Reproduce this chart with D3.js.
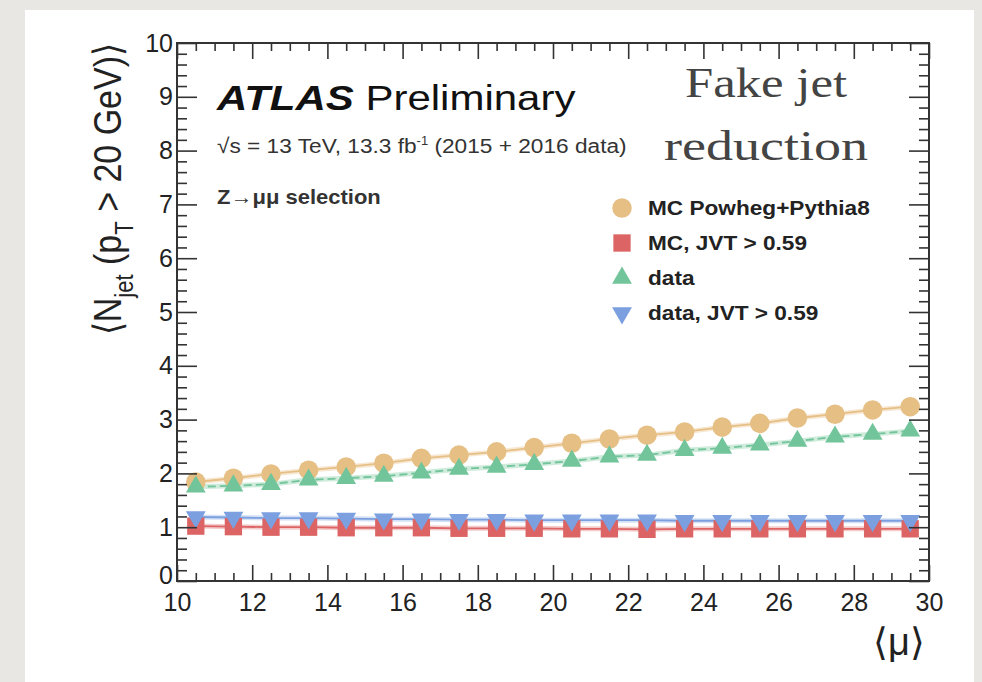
<!DOCTYPE html>
<html>
<head>
<meta charset="utf-8">
<script src="https://cdn.jsdelivr.net/npm/d3@7"></script>
<style>
  body { margin: 0; background: #e9e7e3; }
  svg { display: block; }
  .axis path { display: none; }
  .axis line { stroke: #333; stroke-width: 1.6; }
  .axis text { font-family: "Liberation Sans", Arial, sans-serif; fill: #222; }
</style>
</head>
<body>
<div id="chart"></div>
<script>
// <mu> bin centres
const mu = [10.5, 11.5, 12.5, 13.5, 14.5, 15.5, 16.5, 17.5, 18.5, 19.5,
            20.5, 21.5, 22.5, 23.5, 24.5, 25.5, 26.5, 27.5, 28.5, 29.5];

const mcPowheg = [1.84, 1.91, 1.99, 2.06, 2.12, 2.19, 2.28, 2.34, 2.40, 2.48,
                  2.56, 2.64, 2.71, 2.77, 2.86, 2.93, 3.03, 3.10, 3.18, 3.24];
const mcJvt    = [1.02, 1.01, 1.00, 1.00, 0.99, 0.99, 0.99, 0.98, 0.98, 0.98,
                  0.97, 0.97, 0.96, 0.97, 0.97, 0.97, 0.97, 0.97, 0.97, 0.97];
const data     = [1.75, 1.77, 1.80, 1.88, 1.91, 1.95, 2.01, 2.08, 2.12, 2.17,
                  2.23, 2.31, 2.34, 2.43, 2.47, 2.53, 2.60, 2.68, 2.73, 2.79];
const dataJvt  = [1.19, 1.18, 1.17, 1.17, 1.16, 1.15, 1.15, 1.14, 1.14, 1.13,
                  1.13, 1.13, 1.13, 1.12, 1.12, 1.12, 1.12, 1.12, 1.12, 1.12];

const series = [
  {name: "MC Powheg+Pythia8", values: mcPowheg, color: "#e6bf85", line: "#efd2a8", shape: "circle", dash: null},
  {name: "MC, JVT > 0.59",    values: mcJvt,    color: "#dc6464", line: "#e99a9a", shape: "square", dash: null},
  {name: "data",              values: data,     color: "#72c49a", line: "#9ed8b8", shape: "triangle", dash: "8,4"},
  {name: "data, JVT > 0.59",  values: dataJvt,  color: "#7b9fdf", line: "#a9c1ec", shape: "triangleDown", dash: null}
];

const W = 982, H = 682;
const svg = d3.select("#chart").append("svg").attr("width", W).attr("height", H);

// white page panel
svg.append("rect").attr("x", 25).attr("y", 10).attr("width", 949).attr("height", 672).attr("fill", "#fff");

const x = d3.scaleLinear().domain([10, 30]).range([177, 929]);
const y = d3.scaleLinear().domain([0, 10]).range([581, 43]);

const font = '"Liberation Sans", Arial, sans-serif';
const serif = '"Liberation Serif", "DejaVu Serif", serif';

// series lines
const lineGen = d3.line().x((d, i) => x(mu[i])).y(d => y(d));
series.forEach(s => {
  svg.append("path").datum(s.values)
    .attr("d", lineGen)
    .attr("fill", "none")
    .attr("stroke", s.line)
    .attr("stroke-width", 5)
    .attr("stroke-opacity", 0.5);
  svg.append("path").datum(s.values)
    .attr("d", lineGen)
    .attr("fill", "none")
    .attr("stroke", s.color)
    .attr("stroke-width", 1.8)
    .attr("stroke-dasharray", s.dash);
});

const symbols = {
  circle: d3.symbol().type(d3.symbolCircle).size(300),
  square: d3.symbol().type(d3.symbolSquare).size(300),
  triangle: d3.symbol().type(d3.symbolTriangle).size(170)
};

function drawMarker(g, shape, color) {
  if (shape === "triangleDown") {
    g.append("path").attr("d", symbols.triangle()).attr("transform", "rotate(180)").attr("fill", color);
  } else {
    g.append("path").attr("d", symbols[shape]()).attr("fill", color);
  }
}

series.forEach(s => {
  s.values.forEach((v, i) => {
    const g = svg.append("g").attr("transform", `translate(${x(mu[i])},${y(v)})`);
    drawMarker(g, s.shape, s.color);
  });
});

// axes (ROOT style, ticks inward, mirrored)
const majorX = d3.range(10, 30.01, 2);
const minorX = d3.range(10, 30.01, 0.5).filter(v => Math.abs(v % 2) > 1e-6);
const majorY = d3.range(0, 10.01, 1);
const minorY = d3.range(0, 10.01, 0.2).filter(v => Math.abs(v - Math.round(v)) > 1e-6);

svg.append("g").attr("class", "axis").attr("transform", `translate(0,${y(0)})`)
  .call(d3.axisBottom(x).tickValues(majorX).tickSize(-16).tickPadding(12).tickFormat(d3.format("d")))
  .selectAll("text").attr("font-size", 25).attr("font-family", font);
svg.append("g").attr("class", "axis").attr("transform", `translate(0,${y(0)})`)
  .call(d3.axisBottom(x).tickValues(minorX).tickSize(-8).tickFormat(""));
svg.append("g").attr("class", "axis").attr("transform", `translate(0,${y(10)})`)
  .call(d3.axisTop(x).tickValues(majorX).tickSize(-16).tickFormat(""));
svg.append("g").attr("class", "axis").attr("transform", `translate(0,${y(10)})`)
  .call(d3.axisTop(x).tickValues(minorX).tickSize(-8).tickFormat(""));

svg.append("g").attr("class", "axis").attr("transform", `translate(${x(10)},0)`)
  .call(d3.axisLeft(y).tickValues(majorY).tickSize(-20).tickPadding(4).tickFormat(d3.format("d")))
  .selectAll("text").attr("font-size", 25).attr("font-family", font)
  .attr("dy", d => d === 0 ? "0.1em" : "0.32em");
svg.append("g").attr("class", "axis").attr("transform", `translate(${x(10)},0)`)
  .call(d3.axisLeft(y).tickValues(minorY).tickSize(-10).tickFormat(""));
svg.append("g").attr("class", "axis").attr("transform", `translate(${x(30)},0)`)
  .call(d3.axisRight(y).tickValues(majorY).tickSize(-20).tickFormat(""));
svg.append("g").attr("class", "axis").attr("transform", `translate(${x(30)},0)`)
  .call(d3.axisRight(y).tickValues(minorY).tickSize(-10).tickFormat(""));

// frame
svg.append("rect")
  .attr("x", x(10)).attr("y", y(10))
  .attr("width", x(30) - x(10)).attr("height", y(0) - y(10))
  .attr("fill", "none").attr("stroke", "#333").attr("stroke-width", 2);

// axis titles
const yTitle = svg.append("text")
  .attr("transform", `translate(121,${y(10)}) scale(1.15,1) rotate(-90)`)
  .attr("text-anchor", "end")
  .attr("font-family", font).attr("font-size", 34).attr("fill", "#222");
yTitle.append("tspan").text("⟨N");
yTitle.append("tspan").attr("font-size", 22).attr("dy", 10).text("jet");
yTitle.append("tspan").attr("dy", -10).text(" (p");
yTitle.append("tspan").attr("font-size", 22).attr("dy", 10).text("T");
yTitle.append("tspan").attr("dy", -10).text(" > 20 GeV)⟩");

svg.append("text")
  .attr("x", 925).attr("y", 655).attr("text-anchor", "end")
  .attr("font-family", font).attr("font-size", 38).attr("fill", "#222")
  .text("⟨μ⟩");

// labels (source figure is horizontally stretched, hence the x-scale)
svg.append("text").attr("transform", "translate(217,110) scale(1.2,1)")
  .attr("font-family", font).attr("font-size", 35).attr("fill", "#111")
  .call(t => {
    t.append("tspan").attr("font-weight", "bold").attr("font-style", "italic").text("ATLAS");
    t.append("tspan").text(" Preliminary");
  });

const lumi = svg.append("text").attr("transform", "translate(217,153) scale(1.08,1)")
  .attr("font-family", font).attr("font-size", 21).attr("fill", "#333");
lumi.append("tspan").text("√s = 13 TeV, 13.3 fb");
lumi.append("tspan").attr("font-size", 12).attr("dy", -8).text("-1");
lumi.append("tspan").attr("dy", 8).text(" (2015 + 2016 data)");

svg.append("text").attr("transform", "translate(217,204) scale(1.1,1)")
  .attr("font-family", font).attr("font-size", 20).attr("font-weight", "bold").attr("fill", "#333")
  .text("Z→μμ selection");

// annotation
svg.append("text").attr("x", 766).attr("y", 97).attr("text-anchor", "middle")
  .attr("font-family", serif).attr("font-size", 42).attr("fill", "#444")
  .attr("textLength", 162).attr("lengthAdjust", "spacingAndGlyphs")
  .text("Fake jet");
svg.append("text").attr("x", 766).attr("y", 160).attr("text-anchor", "middle")
  .attr("font-family", serif).attr("font-size", 42).attr("fill", "#444")
  .attr("textLength", 204).attr("lengthAdjust", "spacingAndGlyphs")
  .text("reduction");

// legend
const legend = svg.append("g");
series.forEach((s, i) => {
  const ly = 208 + i * 35;
  const g = legend.append("g").attr("transform", `translate(622,${ly})`);
  drawMarker(g, s.shape, s.color);
  legend.append("text").attr("transform", `translate(648,${ly + 7}) scale(1.16,1)`)
    .attr("font-family", font).attr("font-size", 19.5).attr("font-weight", "bold").attr("fill", "#222")
    .text(s.name);
});
</script>
</body>
</html>
